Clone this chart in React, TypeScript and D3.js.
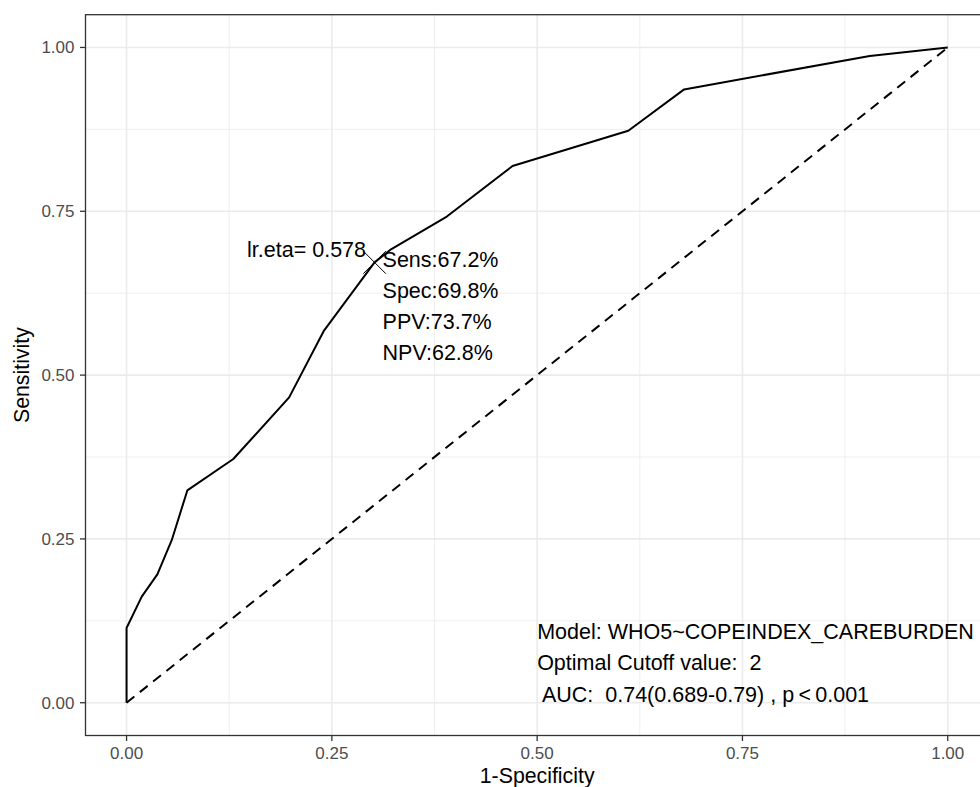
import * as d3 from "d3";

// ROC curve points (1-Specificity, Sensitivity)
const fpr = [0, 0, 0.0185, 0.0375, 0.055, 0.074, 0.13, 0.198, 0.24, 0.302, 0.321, 0.39, 0.47, 0.611, 0.679, 0.905, 1];
const tpr = [0, 0.114, 0.162, 0.196, 0.248, 0.324, 0.372, 0.466, 0.567, 0.672, 0.691, 0.742, 0.819, 0.873, 0.936, 0.987, 1];

const diagonal = [0, 1];
const majorTicks = [0, 0.25, 0.5, 0.75, 1];
const minorTicks = [0.125, 0.375, 0.625, 0.875];
const tickLabels = ["0.00", "0.25", "0.50", "0.75", "1.00"];

const cutoffPoint = [0.302, 0.672];
const cutoffLabel = "lr.eta= 0.578";
const cutoffStats = ["Sens:67.2%", "Spec:69.8%", "PPV:73.7%", "NPV:62.8%"];
const modelLines = [
  "Model: WHO5~COPEINDEX_CAREBURDEN",
  "Optimal Cutoff value:  2",
  " AUC:  0.74(0.689-0.79) , p\u2009<\u20090.001",
];

const FONT = "'Liberation Sans', Arial, Helvetica, sans-serif";

export default function App() {
  const width = 980;
  const height = 787;
  const left = 85.5, right = 988.8, top = 14.7, bottom = 735.5;

  const x = d3.scaleLinear([-0.05, 1.05], [left, right]);
  const y = d3.scaleLinear([-0.05, 1.05], [bottom, top]);

  const pts = fpr.map((f, i) => [f, tpr[i]] as [number, number]);
  const line = d3.line<[number, number]>((d) => x(d[0]), (d) => y(d[1]));

  const cx = x(cutoffPoint[0]);
  const cy = y(cutoffPoint[1]);
  const cs = 11.3;
  const annSize = 21.5;

  return (
    <svg
      width={width}
      height={height}
      style={{ position: "absolute", left: 0, top: 0, background: "#fff" }}
      fontFamily={FONT}
    >
      <rect x={0} y={0} width={width} height={height} fill="#fff" />
      {/* grid */}
      <g stroke="#EBEBEB" fill="none">
        {minorTicks.map((t) => (
          <g key={"mn" + t} strokeWidth={0.8}>
            <line x1={x(t)} x2={x(t)} y1={top} y2={bottom} />
            <line x1={left} x2={right} y1={y(t)} y2={y(t)} />
          </g>
        ))}
        {majorTicks.map((t) => (
          <g key={"mj" + t} strokeWidth={1.6}>
            <line x1={x(t)} x2={x(t)} y1={top} y2={bottom} />
            <line x1={left} x2={right} y1={y(t)} y2={y(t)} />
          </g>
        ))}
      </g>

      {/* diagonal reference */}
      <path
        d={line(diagonal.map((d) => [d, d] as [number, number])) ?? ""}
        stroke="#000"
        strokeWidth={2}
        strokeDasharray="10,7"
        fill="none"
      />
      {/* ROC curve */}
      <path d={line(pts) ?? ""} stroke="#000" strokeWidth={2} fill="none" strokeLinejoin="round" />

      {/* cutoff marker */}
      <g stroke="#000" strokeWidth={1}>
        <line x1={cx - cs} y1={cy - cs} x2={cx + cs} y2={cy + cs} />
        <line x1={cx - cs} y1={cy + cs} x2={cx + cs} y2={cy - cs} />
      </g>
      <text x={cx - 8.5} y={cy - 5.5} textAnchor="end" fontSize={annSize} fill="#000">
        {cutoffLabel}
      </text>
      {cutoffStats.map((s, i) => (
        <text key={s} x={cx + 8} y={cy + 4.7 + i * 31} fontSize={annSize} fill="#000">
          {s}
        </text>
      ))}

      {/* model annotation */}
      {modelLines.map((s, i) => (
        <text key={i} x={x(0.5)} y={y(0.098) + i * 31.7} fontSize={annSize} fill="#000" xmlSpace="preserve" style={{ whiteSpace: "pre" }}>
          {s}
        </text>
      ))}

      {/* panel border */}
      <rect x={left} y={top} width={right - left} height={bottom - top} fill="none" stroke="#333" strokeWidth={1.3} />

      {/* axes ticks */}
      <g stroke="#333" strokeWidth={1.3}>
        {majorTicks.map((t) => (
          <line key={"xt" + t} x1={x(t)} x2={x(t)} y1={bottom} y2={bottom + 5.5} />
        ))}
        {majorTicks.map((t) => (
          <line key={"yt" + t} x1={left - 5.5} x2={left} y1={y(t)} y2={y(t)} />
        ))}
      </g>
      <g fill="#4D4D4D" fontSize={17}>
        {majorTicks.map((t, i) => (
          <text key={"xl" + t} x={x(t)} y={bottom + 23.5} textAnchor="middle">
            {tickLabels[i]}
          </text>
        ))}
        {majorTicks.map((t, i) => (
          <text key={"yl" + t} x={left - 11} y={y(t) + 6} textAnchor="end">
            {tickLabels[i]}
          </text>
        ))}
      </g>

      {/* axis titles */}
      <text x={x(0.5)} y={783} textAnchor="middle" fontSize={21.3} fill="#000">
        1-Specificity
      </text>
      <text
        transform={`translate(29,${(top + bottom) / 2}) rotate(-90)`}
        textAnchor="middle"
        fontSize={21.3}
        fill="#000"
      >
        Sensitivity
      </text>
    </svg>
  );
}
